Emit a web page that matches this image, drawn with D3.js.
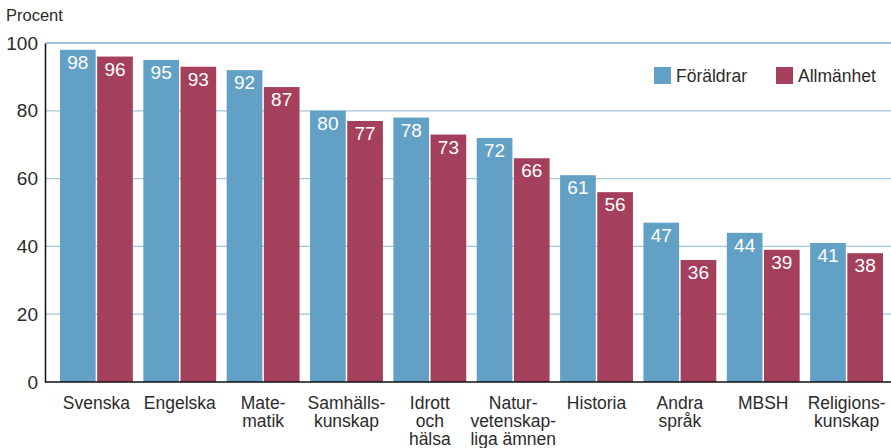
<!DOCTYPE html>
<html lang="sv">
<head>
  <title>Ämnen</title>
  <script type="text/javascript" src="https://cdn.jsdelivr.net/npm/d3@7"></script>
  <style>
    body { margin: 0px; background: white; }
    svg { display: block; }
    text { font-family: "Liberation Sans", Arial, sans-serif; fill: #2b2b2b; }
  </style>
</head>
<body>
  <script type="text/javascript">
    // Data
    var categories = [
      ["Svenska"], ["Engelska"], ["Mate-", "matik"], ["Samhälls-", "kunskap"],
      ["Idrott", "och", "hälsa"], ["Natur-", "vetenskap-", "liga ämnen"], ["Historia"],
      ["Andra", "språk"], ["MBSH"], ["Religions-", "kunskap"]
    ];
    var series = ["Föräldrar", "Allmänhet"];
    var foraldrar = [98, 95, 92, 80, 78, 72, 61, 47, 44, 41];
    var allmanhet = [96, 93, 87, 77, 73, 66, 56, 36, 39, 38];
    var yTicks = [0, 20, 40, 60, 80, 100];
    var colors = ["#62a1c5", "#a4405b"];

    var width = 891, height = 448;
    var svg = d3.select("body").append("svg")
      .attr("width", width)
      .attr("height", height);

    var x = d3.scaleBand()
      .domain(d3.range(categories.length))
      .range([60, 883])
      .paddingInner(0.126)
      .paddingOuter(0);

    var xs = d3.scaleBand()
      .domain(d3.range(series.length))
      .range([0, x.bandwidth()])
      .paddingInner(0.04);

    var y = d3.scaleLinear().domain([0, 100]).range([382, 43]);

    // Gridlines (behind bars)
    svg.append("g").selectAll("line")
      .data(yTicks.filter(function(d) { return d > 0; }))
      .enter().append("line")
      .attr("x1", 46).attr("x2", width)
      .attr("y1", function(d) { return y(d); })
      .attr("y2", function(d) { return y(d); })
      .attr("stroke", "#9fc6da")
      .attr("stroke-width", function(d) { return d === 100 ? 2 : 1.3; });

    var values = [foraldrar, allmanhet];
    var groups = svg.append("g").selectAll("g")
      .data(categories)
      .enter().append("g")
      .attr("transform", function(d, i) { return "translate(" + x(i) + ",0)"; });

    groups.selectAll("rect")
      .data(function(d, i) { return values.map(function(v) { return v[i]; }); })
      .enter().append("rect")
      .attr("x", function(d, j) { return xs(j); })
      .attr("y", function(d) { return y(d); })
      .attr("width", xs.bandwidth())
      .attr("height", function(d) { return y(0) - y(d); })
      .attr("fill", function(d, j) { return colors[j]; });

    groups.selectAll("text.val")
      .data(function(d, i) { return values.map(function(v) { return v[i]; }); })
      .enter().append("text")
      .attr("class", "val")
      .attr("x", function(d, j) { return xs(j) + xs.bandwidth() / 2; })
      .attr("y", function(d) { return y(d) + 19; })
      .attr("text-anchor", "middle")
      .style("fill", "white")
      .style("font-size", "19px")
      .text(function(d) { return d; });

    // Category labels
    groups.append("text")
      .attr("text-anchor", "middle")
      .attr("x", x.bandwidth() / 2)
      .attr("y", 409)
      .style("font-size", "17.5px")
      .selectAll("tspan")
      .data(function(d) { return d; })
      .enter().append("tspan")
      .attr("x", x.bandwidth() / 2)
      .attr("dy", function(d, k) { return k === 0 ? 0 : 18; })
      .text(function(d) { return d; });

    // Axes
    var yAxis = svg.append("g")
      .attr("transform", "translate(45,0)")
      .call(d3.axisLeft(y).tickValues(yTicks).tickSize(0).tickPadding(7));
    yAxis.select(".domain").attr("stroke", "#111").attr("stroke-width", 1.5);
    yAxis.selectAll("text")
      .style("font-size", "19px")
      .style("fill", "#2b2b2b")
      .style("font-family", "'Liberation Sans', Arial, sans-serif");

    svg.append("line")
      .attr("x1", 45).attr("x2", width)
      .attr("y1", y(0)).attr("y2", y(0))
      .attr("stroke", "#111").attr("stroke-width", 1.5);

    svg.append("text")
      .attr("x", 6).attr("y", 21)
      .style("font-size", "16.5px")
      .text("Procent");

    // Legend
    var legendX = [654, 776];
    var legend = svg.append("g").selectAll("g")
      .data(series)
      .enter().append("g")
      .attr("transform", function(d, i) { return "translate(" + legendX[i] + ",67)"; });
    legend.append("rect")
      .attr("width", 17).attr("height", 17)
      .attr("fill", function(d, i) { return colors[i]; });
    legend.append("text")
      .attr("x", 22).attr("y", 15)
      .style("font-size", "17.5px")
      .text(function(d) { return d; });
  </script>
</body>
</html>
